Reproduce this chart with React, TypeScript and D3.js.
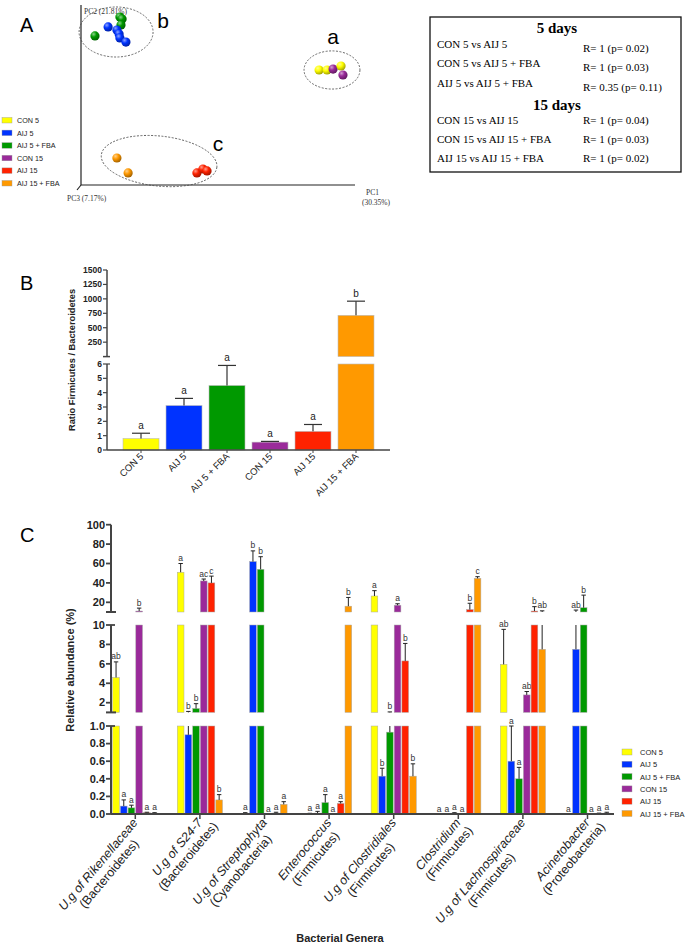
import React from 'react';
import * as d3 from 'd3';

const SANS = 'Liberation Sans, Arial, sans-serif';
const SERIF = 'Liberation Serif, Times New Roman, serif';

const groups = ['CON 5', 'AIJ 5', 'AIJ 5 + FBA', 'CON 15', 'AIJ 15', 'AIJ 15 + FBA'];
const groupColors = ['#ffff00', '#0033ff', '#009900', '#9a2a9a', '#ff2200', '#ff9900'];

// ---- A: PCoA (arbitrary 0-100 units along each axis)
const pcoaGroup = [2, 2, 2, 2, 1, 1, 1, 1, 1, 0, 0, 3, 0, 3, 5, 5, 4, 4, 4];
const pcoaPC1 = [14.2, 15.0, 14.6, 5.1, 9.9, 13.1, 13.9, 14.2, 16.4, 86.9, 89.8, 92.0, 94.9, 95.6, 13.1, 17.2, 42.3, 44.5, 46.0];
const pcoaPC2 = [93.3, 92.2, 88.9, 82.8, 87.8, 86.1, 83.9, 81.7, 79.4, 63.9, 63.9, 64.4, 66.1, 61.1, 15.0, 6.7, 6.7, 8.9, 7.8];
const clusterLabels = ['a', 'b', 'c'];
const clusterPC1 = [91.6, 12.8, 28.5];
const clusterPC2 = [63.9, 85.0, 13.3];
const clusterR1 = [10.2, 13.5, 21.2];
const clusterR2 = [10.6, 13.9, 13.9];

// ANOSIM table
const cmp5 = ['CON 5 vs AIJ 5', 'CON 5 vs AIJ 5 + FBA', 'AIJ 5 vs AIJ 5 + FBA'];
const r5 = ['R= 1 (p= 0.02)', 'R= 1 (p= 0.03)', 'R= 0.35 (p= 0.11)'];
const cmp15 = ['CON 15 vs AIJ 15', 'CON 15 vs AIJ 15 + FBA', 'AIJ 15 vs AIJ 15 + FBA'];
const r15 = ['R= 1 (p= 0.04)', 'R= 1 (p= 0.03)', 'R= 1 (p= 0.02)'];

// ---- B: Firmicutes / Bacteroidetes
const ratioMean = [0.8, 3.1, 4.5, 0.55, 1.3, 715];
const ratioSd = [0.37, 0.5, 1.4, 0.05, 0.48, 245];
const ratioLetters = ['a', 'a', 'a', 'a', 'a', 'b'];
const ratioTicksHigh = [250, 500, 750, 1000, 1250, 1500];
const ratioTicksLow = [0, 1, 2, 3, 4, 5, 6];

// ---- C: relative abundance
const genera = ['U.g of Rikenellaceae', 'U.g of S24-7', 'U.g of Streptophyta', 'Enterococcus', 'U.g of Clostridiales', 'Clostridium', 'U.g of Lachnospiraceae', 'Acinetobacter'];
const phyla = ['(Bacteroidetes)', '(Bacteroidetes)', '(Cyanobacteria)', '(Firmicutes)', '(Firmicutes)', '(Firmicutes)', '(Firmicutes)', '(Proteobacteria)'];
const abCON5 = [4.6, 51, 0.005, 0.004, 26.5, 0, 5.95, 0];
const abAIJ5 = [0.09, 0.9, 62, 0.01, 0.43, 0, 0.6, 7.5];
const abAIJ5F = [0.07, 1.4, 54, 0.13, 0.93, 0.01, 0.4, 14.4];
const abCON15 = [11, 42, 0, 0, 17, 0, 2.8, 0];
const abAIJ15 = [0.015, 40, 0.01, 0.12, 6.3, 12.5, 11, 0.005];
const abAIJ15F = [0.01, 0.16, 0.11, 16, 0.43, 44.7, 7.5, 0.01];
const sdCON5 = [1.6, 9, 0.01, 0.004, 5.5, 0, 3.6, 0];
const sdAIJ5 = [0.07, 0.2, 11, 0.02, 0.09, 0, 0.4, 4.5];
const sdAIJ5F = [0.03, 0.5, 13, 0.09, 0.12, 0.005, 0.13, 13];
const sdCON15 = [3, 2, 0, 0, 1.5, 0, 0.35, 0];
const sdAIJ15 = [0.005, 7, 0.01, 0.02, 1.8, 6.5, 4.5, 0.005];
const sdAIJ15F = [0.005, 0.06, 0.03, 9, 0.14, 1.7, 3.7, 0.01];
const ltCON5 = ['ab', 'a', 'a', 'a', 'a', 'a', 'ab', 'a'];
const ltAIJ5 = ['a', 'b', 'b', 'a', 'b', 'a', 'a', 'ab'];
const ltAIJ5F = ['a', 'b', 'b', 'a', 'b', 'a', 'a', 'b'];
const ltCON15 = ['b', 'ac', 'a', 'a', 'a', 'a', 'ab', 'a'];
const ltAIJ15 = ['a', 'c', 'a', 'a', 'b', 'b', 'b', 'a'];
const ltAIJ15F = ['a', 'b', 'a', 'b', 'b', 'c', 'ab', 'a'];
const abTicksTop = [20, 40, 60, 80, 100];
const abTicksMid = [2, 4, 6, 8, 10];
const abTicksLow = [0, 0.2, 0.4, 0.6, 0.8, 1.0];

const abMeans = [abCON5, abAIJ5, abAIJ5F, abCON15, abAIJ15, abAIJ15F];
const abSds = [sdCON5, sdAIJ5, sdAIJ5F, sdCON15, sdAIJ15, sdAIJ15F];
const abLetters = [ltCON5, ltAIJ5, ltAIJ5F, ltCON15, ltAIJ15, ltAIJ15F];

const AXIS = '#444';

let measureCtx: CanvasRenderingContext2D | null = null;
function textWidth(t: string, font: string) {
  if (!measureCtx) measureCtx = document.createElement('canvas').getContext('2d');
  if (!measureCtx) return t.length * 6;
  measureCtx.font = font;
  return measureCtx.measureText(t).width;
}

function PanelA() {
  const x = d3.scaleLinear().domain([0, 100]).range([81, 355]);
  const y = d3.scaleLinear().domain([0, 100]).range([185, 5]);
  return (
    <g>
      <defs>
        {groupColors.map((c, i) => (
          <radialGradient key={i} id={`sph${i}`} cx="35%" cy="30%" r="70%">
            <stop offset="0%" stopColor={d3.interpolateRgb(c, '#fff')(0.55)} />
            <stop offset="45%" stopColor={c} />
            <stop offset="100%" stopColor={d3.color(c)!.darker(1.2).toString()} />
          </radialGradient>
        ))}
      </defs>
      <text x={20} y={32} fontFamily={SANS} fontSize={20}>A</text>
      <line x1={x(0)} x2={x(0)} y1={y(100)} y2={y(0)} stroke="#222" strokeWidth={1.2} />
      <line x1={x(0)} x2={x(100)} y1={y(0)} y2={y(0)} stroke="#222" strokeWidth={1.2} />
      <line x1={x(0)} x2={x(0) - 4} y1={y(0)} y2={y(0) + 5} stroke="#222" strokeWidth={1.2} />
      <text x={84} y={14} fontFamily={SERIF} fontSize={7.5} fill="#333">PC2 (21.81%)</text>
      <text x={366} y={195} fontFamily={SERIF} fontSize={7.5} fill="#333">PC1</text>
      <text x={362} y={205} fontFamily={SERIF} fontSize={7.5} fill="#333">(30.35%)</text>
      <text x={67} y={201} fontFamily={SERIF} fontSize={7.5} fill="#333">PC3 (7.17%)</text>
      {clusterLabels.map((l, i) => {
        const cx = x(clusterPC1[i]);
        const cy = y(clusterPC2[i]);
        const rx = x(clusterR1[i]) - x(0);
        const ry = y(0) - y(clusterR2[i]);
        const off = [[1, -26], [47, -4], [59, -10]][i];
        return (
          <g key={l}>
            <ellipse cx={cx} cy={cy} rx={rx} ry={ry} fill="none" stroke="#444" strokeWidth={0.8} strokeDasharray="2,1.5"
              transform={i === 2 ? `rotate(6 ${cx} ${cy})` : undefined} />
            <text x={cx + off[0]} y={cy + off[1]} fontFamily={SANS} fontSize={21} textAnchor="middle">{l}</text>
          </g>
        );
      })}
      {pcoaGroup.map((g, i) => (
        <circle key={i} cx={x(pcoaPC1[i])} cy={y(pcoaPC2[i])} r={4.6} fill={`url(#sph${g})`} />
      ))}
      {groups.map((g, i) => (
        <g key={g}>
          <rect x={2} y={117.5 + i * 12.6} width={10} height={5.5} fill={groupColors[i]} stroke="#999" strokeWidth={0.4} />
          <text x={17} y={123 + i * 12.6} fontFamily={SANS} fontSize={7.2} fill="#222">{g}</text>
        </g>
      ))}
      {/* ANOSIM table */}
      <rect x={430} y={17} width={251} height={155} fill="#fff" stroke="#111" strokeWidth={1.3} />
      <text x={557} y={33} fontFamily={SERIF} fontSize={15} fontWeight="bold" textAnchor="middle">5 days</text>
      {cmp5.map((c, i) => (
        <g key={c} fontFamily={SERIF} fontSize={11}>
          <text x={437} y={48 + i * 19.3}>{c}</text>
          <text x={583} y={52 + i * 19.3}>{r5[i]}</text>
        </g>
      ))}
      <text x={557} y={110} fontFamily={SERIF} fontSize={15} fontWeight="bold" textAnchor="middle">15 days</text>
      {cmp15.map((c, i) => (
        <g key={c} fontFamily={SERIF} fontSize={11}>
          <text x={437} y={124 + i * 19.2}>{c}</text>
          <text x={583} y={124 + i * 19.2}>{r15[i]}</text>
        </g>
      ))}
    </g>
  );
}

function PanelB() {
  const ax = 107;
  const x = d3.scaleBand<string>().domain(groups).range([119.5, 377.5]).paddingInner(0.163).paddingOuter(0.0815);
  const yHigh = d3.scaleLinear().domain([0, 1500]).range([356.6, 270]);
  const yLow = d3.scaleLinear().domain([0, 6]).range([450, 364]);
  const yOf = (v: number) => (v <= 6 ? yLow(v) : yHigh(v));
  return (
    <g>
      <text x={20} y={290} fontFamily={SANS} fontSize={20}>B</text>
      <text transform="translate(75,360) rotate(-90)" textAnchor="middle" fontFamily={SANS} fontSize={9.3} fontWeight="bold" fill="#222">
        Ratio Firmicutes / Bacteroidetes
      </text>
      {groups.map((g, i) => {
        const v = ratioMean[i];
        const top = v + ratioSd[i];
        const bx = x(g)!;
        const cx = bx + x.bandwidth() / 2;
        const segs: [number, number][] = [];
        segs.push([yLow(0), yLow(Math.min(v, 6))]);
        if (v > 6) segs.push([yHigh(0), yHigh(v)]);
        const capY = yOf(top);
        return (
          <g key={g}>
            {segs.map((s, k) => (
              <rect key={k} x={bx} y={s[1]} width={x.bandwidth()} height={s[0] - s[1]} fill={groupColors[i]} stroke="#bbb" strokeWidth={0.6} />
            ))}
            <line x1={cx} x2={cx} y1={yOf(v)} y2={capY} stroke="#333" strokeWidth={1.2} />
            <line x1={cx - 9} x2={cx + 9} y1={capY} y2={capY} stroke="#333" strokeWidth={1.2} />
            <text x={cx} y={capY - 4} textAnchor="middle" fontFamily={SANS} fontSize={10} fill="#222">{ratioLetters[i]}</text>
            <line x1={cx} x2={cx} y1={450} y2={453} stroke={AXIS} strokeWidth={1} />
            <text transform={`translate(${cx + 3},${457}) rotate(-45)`} textAnchor="end" fontFamily={SANS} fontSize={9.5} fill="#222">{g}</text>
          </g>
        );
      })}
      {/* axis */}
      <line x1={ax} x2={ax} y1={270} y2={356.6} stroke={AXIS} strokeWidth={1.5} />
      <line x1={ax} x2={ax} y1={364} y2={450} stroke={AXIS} strokeWidth={1.5} />
      <line x1={ax - 4} x2={ax + 3} y1={356.6} y2={356.6} stroke={AXIS} strokeWidth={1.5} />
      <line x1={ax} x2={390} y1={450} y2={450} stroke={AXIS} strokeWidth={1.5} />
      {ratioTicksHigh.map((t) => (
        <g key={t}>
          <line x1={ax - 4} x2={ax} y1={yHigh(t)} y2={yHigh(t)} stroke={AXIS} strokeWidth={1.2} />
          <text x={ax - 5} y={yHigh(t) + 3} textAnchor="end" fontFamily={SANS} fontSize={8.5} fontWeight="bold" fill="#222">{t}</text>
        </g>
      ))}
      {ratioTicksLow.map((t) => (
        <g key={t}>
          <line x1={ax - 4} x2={ax + (t === 6 ? 3 : 0)} y1={yLow(t)} y2={yLow(t)} stroke={AXIS} strokeWidth={1.2} />
          <text x={ax - 5} y={yLow(t) + 3} textAnchor="end" fontFamily={SANS} fontSize={8.5} fontWeight="bold" fill="#222">{t}</text>
        </g>
      ))}
    </g>
  );
}

function PanelC() {
  const ax = 111;
  const x = d3.scaleBand<string>().domain(genera).range([103, 619.8]).paddingInner(0.285).paddingOuter(0.1425);
  const xi = d3.scaleBand<string>().domain(groups).range([0, x.bandwidth()]).paddingInner(0.13).paddingOuter(0.065);
  const segScales = [
    d3.scaleLinear().domain([0, 1]).range([814, 726]),
    d3.scaleLinear().domain([1, 10]).range([712.4, 625]),
    d3.scaleLinear().domain([10, 100]).range([612, 524.7]),
  ];
  const segOf = (v: number) => (v <= 1 ? 0 : v <= 10 ? 1 : 2);
  const yOf = (v: number) => segScales[segOf(v)](v);
  const segTicks = [abTicksLow, abTicksMid, abTicksTop];
  const LBL = 12.5;
  const lblFont1 = `italic ${LBL}px ${SANS}`;
  return (
    <g>
      <text x={20} y={542} fontFamily={SANS} fontSize={20}>C</text>
      <text transform="translate(74,670) rotate(-90)" textAnchor="middle" fontFamily={SANS} fontSize={11} fontWeight="bold" fill="#222">
        Relative abundance (%)
      </text>
      {genera.map((gen, j) => (
        <g key={gen}>
          {groups.map((g, i) => {
            const v = abMeans[i][j];
            const top = v + abSds[i][j];
            const bx = x(gen)! + xi(g)!;
            const bw = xi.bandwidth();
            const cx = bx + bw / 2;
            const capY = yOf(top);
            return (
              <g key={g}>
                {segScales.map((s, k) => {
                  const [lo, hi] = s.domain();
                  if (v <= lo) return null;
                  const yt = s(Math.min(v, hi));
                  return <rect key={k} x={bx} y={yt} width={bw} height={s(lo) - yt} fill={groupColors[i]} stroke="#aaa" strokeWidth={0.5} />;
                })}
                {segScales.map((s, k) => {
                  const [lo, hi] = s.domain();
                  const a = Math.max(v, lo);
                  const b = Math.min(top, hi);
                  if (b <= a) return null;
                  return <line key={k} x1={cx} x2={cx} y1={s(a)} y2={s(b)} stroke="#222" strokeWidth={1} />;
                })}
                <line x1={cx - 2.2} x2={cx + 2.2} y1={capY} y2={capY} stroke="#222" strokeWidth={1} />
                <text x={cx} y={capY - 2.5} textAnchor="middle" fontFamily={SANS} fontSize={8.5} fill="#333">{abLetters[i][j]}</text>
              </g>
            );
          })}
        </g>
      ))}
      {/* axes */}
      {segScales.map((s, k) => {
        const [lo, hi] = s.domain();
        return (
          <g key={k}>
            <line x1={ax} x2={ax} y1={s(hi)} y2={s(lo)} stroke={AXIS} strokeWidth={2} />
            {k > 0 && <line x1={ax - 5} x2={ax + 5} y1={s(lo)} y2={s(lo)} stroke={AXIS} strokeWidth={2} />}
            {segTicks[k].map((t) => (
              <g key={t}>
                <line x1={ax - 5} x2={ax + (t === hi && k < 2 ? 4 : 0)} y1={s(t)} y2={s(t)} stroke={AXIS} strokeWidth={1.8} />
                <text x={ax - 6} y={s(t) + 3.8} textAnchor="end" fontFamily={SANS} fontSize={11} fontWeight="bold" fill="#222">
                  {k === 0 ? d3.format('.1f')(t) : t}
                </text>
              </g>
            ))}
          </g>
        );
      })}
      <line x1={ax} x2={614} y1={814} y2={814} stroke={AXIS} strokeWidth={2} />
      {genera.map((gen, j) => {
        const cx = x(gen)! + x.bandwidth() / 2;
        const w1 = textWidth(gen, lblFont1);
        return (
          <g key={gen}>
            <line x1={cx} x2={cx} y1={814} y2={819} stroke={AXIS} strokeWidth={1.5} />
            <g transform={`translate(${cx + 3},${823}) rotate(-50)`} fontFamily={SANS} fontSize={LBL} fill="#222">
              <text x={0} y={0} textAnchor="end" fontStyle="italic">{gen}</text>
              <text x={-w1 / 2} y={LBL * 1.15} textAnchor="middle">{phyla[j]}</text>
            </g>
          </g>
        );
      })}
      <text x={340} y={942} textAnchor="middle" fontFamily={SANS} fontSize={11} fontWeight="bold" fill="#222">Bacterial Genera</text>
      {groups.map((g, i) => (
        <g key={g}>
          <rect x={622} y={749 + i * 12.3} width={10} height={6} fill={groupColors[i]} stroke="#999" strokeWidth={0.4} />
          <text x={640} y={755 + i * 12.3} fontFamily={SANS} fontSize={7.5} fill="#222">{g}</text>
        </g>
      ))}
    </g>
  );
}

export default function App() {
  return (
    <svg width={685} height={946} viewBox="0 0 685 946" style={{ position: 'absolute', left: 0, top: 0, background: '#fff' }}>
      <rect width={685} height={946} fill="#fff" />
      <PanelA />
      <PanelB />
      <PanelC />
    </svg>
  );
}
